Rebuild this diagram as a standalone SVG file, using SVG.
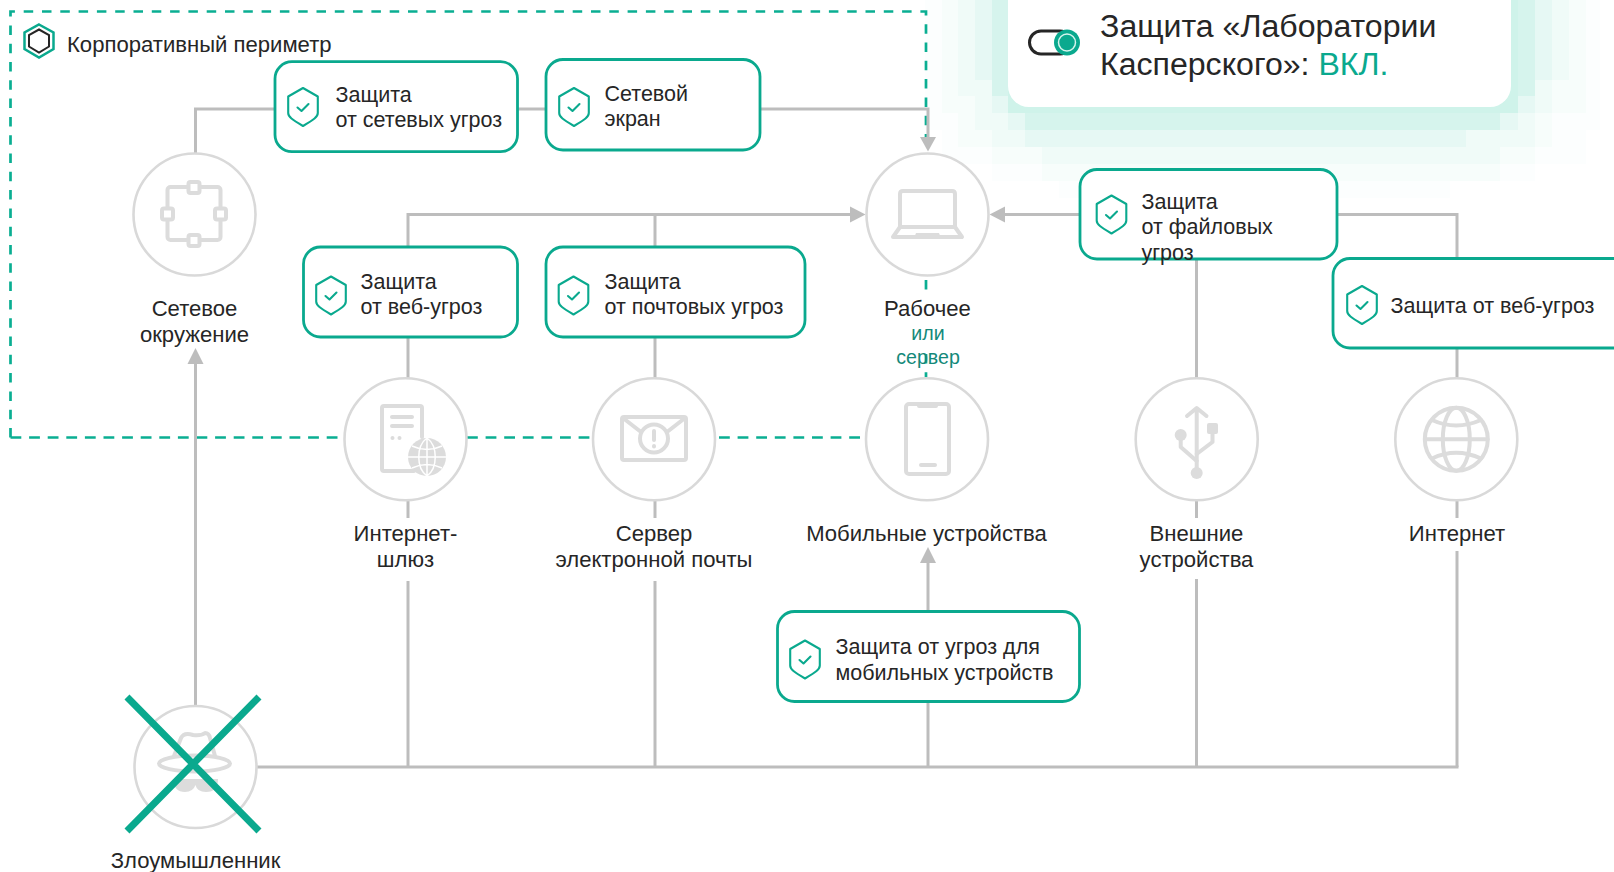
<svg xmlns="http://www.w3.org/2000/svg" width="1614" height="872" viewBox="0 0 1614 872">
<style>
text{font-family:"Liberation Sans",Arial,sans-serif;fill:#262626}
.t{font-size:21.5px}
.p{font-size:22.1px}
.c{font-size:22.1px;text-anchor:middle}
.g{font-size:19.6px;text-anchor:middle;fill:#14897a}
.h{font-size:32.1px}
.box{fill:#fff;stroke:#0aa98e;stroke-width:2.800}
.node{fill:#fff;stroke:#d9d9d9;stroke-width:2.600}
.ic{fill:none;stroke:#dcdcdc;stroke-width:4;stroke-linejoin:round;stroke-linecap:round}
.icf{fill:#dcdcdc;stroke:none}
.ln{fill:none;stroke:#bdbdbd;stroke-width:3}
.ds{fill:none;stroke:#0aae92;stroke-width:2.700;stroke-dasharray:9.500 8.800}
.db{fill:none;stroke:#0aae92;stroke-width:2.700;stroke-dasharray:10.800 7.800}
.ar{fill:#bdbdbd}
.sh{fill:none;stroke:#0aa98e;stroke-width:2.100;stroke-linejoin:round;stroke-linecap:round}
</style>
<defs>
<g id="shield"><path class="sh" d="M0-19L14.800-10.500V6C14.800 10 11 12.500 0 19C-11 12.500-14.800 10-14.800 6V-10.500Z"/><path class="sh" d="M-5.500 0.500L-1.500 4L5.500-3"/></g>
</defs>
<g id="background">
<path fill="#fcfefe" d="M925 0V130H942V164H992V181H1059V198H1450V181H1535V164H1586V130H1600V0Z"/>
<path fill="#f7fdfb" d="M942 0V113H958V147H992V164H1042V181H1500V164H1535V147H1552V113H1586V0Z"/>
<path fill="#f0fbf8" d="M958 0V96H975V130H992V147H1042V164H1500V147H1535V113H1552V80H1569V0Z"/>
<path fill="#e6f8f4" d="M975 0V80H992V113H1008V130H1025V147H1466V130H1518V113H1535V80H1552V0Z"/>
<path fill="#d6f4ed" d="M992 0V96H1008V113H1025V130H1500V113H1518V96H1535V0Z"/>
<path fill="#cff3ea" d="M1008 0V113H1518V0Z"/>
</g>
<g id="connectors">
<path class="ds" d="M10.500 437.500V11.500H926V151"/>
<path class="ds" d="M926 280V291M926 354V377"/>
<path class="db" d="M10.500 437.500H340M467 437.500H592M719 437.500H862"/>
<path class="ln" d="M195.500 153V109H275M517 109H545M760 109H928V138"/>
<path class="ln" d="M408 247V214.500H852M655 214.500V247M408 337V378M655 337V378"/>
<path class="ln" d="M1004 214.500H1080M1337 214.500H1457V258M1457 347V378M1196.500 259V378"/>
<path class="ln" d="M408 501V518M655 501V518M1196.500 501V518M1457 501V518"/>
<path class="ln" d="M195.500 362V705"/>
<path class="ln" d="M408 581V767M655 581V767M1196.500 579V767M1457 551V767M928 560V611M928 702V767"/>
<path class="ln" d="M256 767H1458.500" stroke-width="3.500"/>
<path class="ar" d="M920 137H936L928 151.500Z"/>
<path class="ar" d="M850 206.500V222.500L865.500 214.500Z"/>
<path class="ar" d="M1005 206.500V222.500L989.500 214.500Z"/>
<path class="ar" d="M187.500 364H203.500L195.500 348Z"/>
<path class="ar" d="M920 563H936L928 547Z"/>
</g>
<g id="card">
<rect x="1008" y="-30" width="503" height="137" rx="21" fill="#fff"/>
<rect x="1029.500" y="31" width="42" height="23" rx="11.500" fill="none" stroke="#262626" stroke-width="3"/>
<circle cx="1067" cy="42.500" r="13" fill="#0aa98e"/>
<circle cx="1067" cy="42.500" r="8.500" fill="#0aa98e" stroke="#d5f4ec" stroke-width="1.500"/>
<text class="h" x="1100" y="37">Защита «Лаборатории</text>
<text class="h" x="1100" y="75">Касперского»: <tspan style="fill:#0aa98e">ВКЛ.</tspan></text>
</g>
<g id="perimeter">
<path fill="none" stroke="#0aa98e" stroke-width="2.500" d="M39 24.500L53.500 32.500V49L39 57.500L24.500 49V32.500Z"/>
<path fill="#fff" stroke="#262626" stroke-width="2" d="M39 29.500L49 35V46.500L39 52.500L29 46.500V35Z"/>
<text class="p" x="67" y="52">Корпоративный периметр</text>
</g>
<g id="node-network">
<circle class="node" cx="194.500" cy="214.500" r="61"/>
<rect class="ic" x="167.500" y="187" width="53" height="53" rx="3"/>
<rect class="ic" x="188.500" y="182" width="11" height="11" rx="2" style="fill:#fff"/>
<rect class="ic" x="188.500" y="235" width="11" height="11" rx="2" style="fill:#fff"/>
<rect class="ic" x="162" y="208.500" width="11" height="11" rx="2" style="fill:#fff"/>
<rect class="ic" x="215" y="208.500" width="11" height="11" rx="2" style="fill:#fff"/>
<text class="c" x="194.500" y="316">Сетевое</text>
<text class="c" x="194.500" y="342">окружение</text>
</g>
<g id="node-workstation">
<circle class="node" cx="927.500" cy="214.500" r="61"/>
<path class="ic" d="M900 227V194Q900 191 903 191H952Q955 191 955 194V227"/>
<path class="ic" d="M900 227H955L962 237H893Z"/>
<path class="icf" d="M916 233H939L941 238H914Z"/>
<text class="c" x="927.500" y="316">Рабочее</text>
<text class="g" x="928" y="340">или</text>
<text class="g" x="928" y="364">сервер</text>
</g>
<g id="node-gateway">
<circle class="node" cx="405.500" cy="439.300" r="61"/>
<path class="ic" d="M414 471H384Q382 471 382 469V408Q382 406 384 406H420Q422 406 422 408V437"/>
<path class="ic" d="M392 417H412M392 426H412"/>
<circle class="icf" cx="392.500" cy="438" r="2"/><circle class="icf" cx="399.500" cy="438" r="2"/>
<circle cx="427" cy="457" r="19" fill="#dcdcdc"/>
<path fill="none" stroke="#fff" stroke-width="1.500" d="M408 457H446M427 438V476M427 438C416 446 416 468 427 476C438 468 438 446 427 438M412 446Q427 453 442 446M412 468Q427 461 442 468"/>
<text class="c" x="405.500" y="541">Интернет-</text>
<text class="c" x="405.500" y="567">шлюз</text>
</g>
<g id="node-mail">
<circle class="node" cx="654" cy="439.300" r="61"/>
<rect class="ic" x="622" y="417" width="64" height="43" rx="2"/>
<path class="ic" d="M623 418L641 432M685 418L667 432"/>
<circle class="ic" cx="654" cy="438.500" r="14" style="fill:#fff"/>
<path class="ic" d="M654 431V440M654 446V446.500"/>
<text class="c" x="654" y="541">Сервер</text>
<text class="c" x="654" y="567">электронной почты</text>
</g>
<g id="node-mobile">
<circle class="node" cx="927" cy="439.300" r="61"/>
<rect class="ic" x="906" y="404" width="43" height="70" rx="3"/>
<path class="ic" d="M919 406H936M921 465H935"/>
<text class="c" x="926.500" y="541">Мобильные устройства</text>
</g>
<g id="node-usb">
<circle class="node" cx="1196.700" cy="439.300" r="61"/>
<path class="ic" d="M1196.700 409V471M1187 416L1196.700 408L1206.500 416"/>
<path class="ic" d="M1180.700 437V447L1196.700 461M1212.500 432V442L1196.700 454"/>
<circle class="icf" cx="1180.700" cy="435" r="6"/>
<circle class="icf" cx="1196.700" cy="473" r="6"/>
<rect class="icf" x="1207" y="423" width="11" height="11" rx="2"/>
<text class="c" x="1196.500" y="541">Внешние</text>
<text class="c" x="1196.500" y="567">устройства</text>
</g>
<g id="node-internet">
<circle class="node" cx="1456.300" cy="439.300" r="61"/>
<circle class="ic" cx="1456.300" cy="439.300" r="31.500"/>
<ellipse class="ic" cx="1456.300" cy="439.300" rx="13.500" ry="31.500"/>
<path class="ic" d="M1425 439.300H1487.500M1432 420Q1456 431 1481 420M1432 458.500Q1456 447 1481 458.500" stroke-linecap="butt"/>
<text class="c" x="1457" y="541">Интернет</text>
</g>
<g id="node-attacker">
<circle class="node" cx="195.500" cy="767" r="61"/>
<path class="ic" d="M174 756L181 738Q184 732 193 735Q201 736 205 733Q209 733 210 738L215 756"/>
<ellipse class="ic" cx="194.500" cy="763.500" rx="35.500" ry="8"/>
<path class="icf" d="M173 779H218Q218 792 206 792Q197 792 195.500 785Q193 792 185 792Q174 792 173 779Z"/>
<path stroke="#0aa98e" stroke-width="7" d="M127 697L259 831M259 697L127 831"/>
<text class="c" x="195.500" y="868">Злоумышленник</text>
</g>
<g id="box-network">
<rect class="box" x="275" y="61.700" width="242.500" height="90" rx="17"/>
<use href="#shield" x="303" y="107"/>
<text class="t" x="335.500" y="102">Защита</text><text class="t" x="335.500" y="127">от сетевых угроз</text>
</g>
<g id="box-firewall">
<rect class="box" x="546" y="59.500" width="214" height="90.500" rx="17"/>
<use href="#shield" x="574" y="107"/>
<text class="t" x="604.500" y="101">Сетевой</text><text class="t" x="604.500" y="126">экран</text>
</g>
<g id="box-web">
<rect class="box" x="303.500" y="247" width="214" height="90" rx="17"/>
<use href="#shield" x="331" y="295.500"/>
<text class="t" x="360.500" y="289">Защита</text><text class="t" x="360.500" y="314">от веб-угроз</text>
</g>
<g id="box-mail">
<rect class="box" x="546" y="247" width="259" height="90" rx="17"/>
<use href="#shield" x="573.500" y="295.500"/>
<text class="t" x="604.500" y="289">Защита</text><text class="t" x="604.500" y="314">от почтовых угроз</text>
</g>
<g id="box-file">
<rect class="box" x="1080" y="169.500" width="257" height="89.500" rx="17"/>
<use href="#shield" x="1111.500" y="214.500"/>
<text class="t" x="1141.500" y="209">Защита</text><text class="t" x="1141.500" y="234">от файловых</text><text class="t" x="1141.500" y="259.500">угроз</text>
</g>
<g id="box-web2">
<rect class="box" x="1333" y="258.500" width="300" height="89.500" rx="17"/>
<use href="#shield" x="1362" y="305"/>
<text class="t" x="1390.500" y="313">Защита от веб-угроз</text>
</g>
<g id="box-mobile">
<rect class="box" x="777.500" y="611.500" width="302" height="90" rx="17"/>
<use href="#shield" x="805" y="659.500"/>
<text class="t" x="835.500" y="654">Защита от угроз для</text><text class="t" x="835.500" y="680">мобильных устройств</text>
</g>
</svg>
